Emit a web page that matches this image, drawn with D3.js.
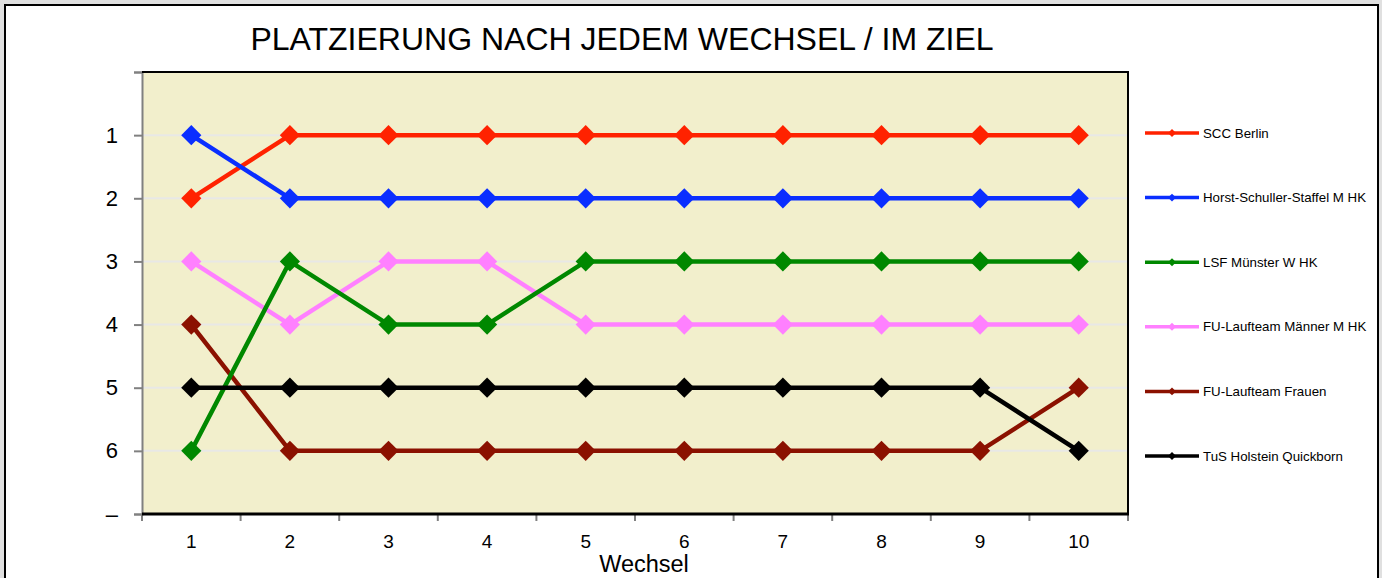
<!DOCTYPE html>
<html>
<head>
<meta charset="utf-8">
<script src="https://cdn.jsdelivr.net/npm/d3@7"></script>
<style>
  body { margin: 0; background: #e0e0e0; }
  svg { display: block; font-family: "Liberation Sans", Arial, sans-serif; }
</style>
</head>
<body>
<div id="chart"></div>
<script>
// data
const wechsel = [1, 2, 3, 4, 5, 6, 7, 8, 9, 10];
const teams = ["SCC Berlin", "Horst-Schuller-Staffel M HK", "LSF Münster W HK",
               "FU-Laufteam Männer M HK", "FU-Laufteam Frauen", "TuS Holstein Quickborn"];
const sccBerlin   = [2, 1, 1, 1, 1, 1, 1, 1, 1, 1];
const horstSch    = [1, 2, 2, 2, 2, 2, 2, 2, 2, 2];
const lsfMuenster = [6, 3, 4, 4, 3, 3, 3, 3, 3, 3];
const fuMaenner   = [3, 4, 3, 3, 4, 4, 4, 4, 4, 4];
const fuFrauen    = [4, 6, 6, 6, 6, 6, 6, 6, 6, 5];
const tusHolstein = [5, 5, 5, 5, 5, 5, 5, 5, 5, 6];
const rankTicks = [0, 1, 2, 3, 4, 5, 6, 7];
const rankLabels = ["", "1", "2", "3", "4", "5", "6", "–"];
const colors = ["#ff2200", "#0a2eff", "#008800", "#ff80ff", "#8b1100", "#000000"];

const series = teams.map((name, i) => ({
    name: name,
    color: colors[i],
    values: [sccBerlin, horstSch, lsfMuenster, fuMaenner, fuFrauen, tusHolstein][i]
}));
// drawing order (black on top, green above pink / dark red)
const drawOrder = [0, 1, 3, 4, 2, 5];

const W = 1382, H = 578;
const svg = d3.select("#chart").append("svg")
    .attr("width", W).attr("height", H);

// white frame
svg.append("rect")
    .attr("x", 5).attr("y", 5).attr("width", 1373).attr("height", 590)
    .attr("fill", "#fff").attr("stroke", "#000").attr("stroke-width", 2);

// title
svg.append("text")
    .attr("x", 622).attr("y", 50)
    .attr("text-anchor", "middle")
    .attr("font-size", 32)
    .text("PLATZIERUNG NACH JEDEM WECHSEL / IM ZIEL");

const plot = {left: 142, top: 72, right: 1128, bottom: 514};

const x = d3.scaleBand().domain(wechsel).range([plot.left, plot.right]);
const y = d3.scaleLinear().domain([0, 7]).range([plot.top, plot.bottom]);

// plot background
svg.append("rect")
    .attr("x", plot.left).attr("y", plot.top)
    .attr("width", plot.right - plot.left).attr("height", plot.bottom - plot.top)
    .attr("fill", "#f2efcc");

// gridlines
svg.append("g").selectAll("line")
    .data(rankTicks.slice(1, 7))
    .join("line")
    .attr("x1", plot.left).attr("x2", plot.right)
    .attr("y1", d => y(d)).attr("y2", d => y(d))
    .attr("stroke", "#e8e8e6").attr("stroke-width", 2);

// y axis
const yAxis = svg.append("g")
    .attr("transform", `translate(${plot.left},0)`)
    .call(d3.axisLeft(y).tickValues(rankTicks).tickFormat((d, i) => rankLabels[i]).tickSize(8).tickPadding(16));
yAxis.select(".domain").attr("stroke", "#808080").attr("stroke-width", 2);
yAxis.selectAll(".tick line").attr("stroke", "#808080").attr("stroke-width", 2);
yAxis.selectAll("text").attr("font-size", 22).attr("fill", "#000")
    .attr("font-family", "Liberation Sans, Arial, sans-serif");

// x axis ticks at band boundaries
const bounds = wechsel.map(d => x(d)).concat([plot.right]);
svg.append("g").selectAll("line")
    .data(bounds)
    .join("line")
    .attr("x1", d => d).attr("x2", d => d)
    .attr("y1", plot.bottom).attr("y2", plot.bottom + 7)
    .attr("stroke", "#808080").attr("stroke-width", 2);

svg.append("g").selectAll("text")
    .data(wechsel)
    .join("text")
    .attr("x", d => x(d) + x.bandwidth() / 2)
    .attr("y", 548)
    .attr("text-anchor", "middle")
    .attr("font-size", 19)
    .text(d => d);

svg.append("text")
    .attr("x", 644).attr("y", 572)
    .attr("text-anchor", "middle")
    .attr("font-size", 23.5)
    .text("Wechsel");

// plot border: top/right black, bottom thicker
svg.append("line").attr("x1", plot.left).attr("x2", plot.right + 1)
    .attr("y1", plot.top).attr("y2", plot.top)
    .attr("stroke", "#000").attr("stroke-width", 2);
svg.append("line").attr("x1", plot.right).attr("x2", plot.right)
    .attr("y1", plot.top).attr("y2", plot.bottom)
    .attr("stroke", "#000").attr("stroke-width", 2);
svg.append("line").attr("x1", plot.left).attr("x2", plot.right + 1)
    .attr("y1", plot.bottom).attr("y2", plot.bottom)
    .attr("stroke", "#000").attr("stroke-width", 3);

// lines and markers
const line = d3.line()
    .x((d, i) => x(wechsel[i]) + x.bandwidth() / 2)
    .y(d => y(d));
const diamond = d3.symbol().type(d3.symbolDiamond2).size(260);

const seriesG = svg.append("g").selectAll("g")
    .data(drawOrder.map(i => series[i]))
    .join("g");

seriesG.append("path")
    .attr("d", d => line(d.values))
    .attr("fill", "none")
    .attr("stroke", d => d.color)
    .attr("stroke-width", 4.5);

seriesG.each(function(s) {
    d3.select(this).selectAll("path.mark")
        .data(s.values)
        .join("path")
        .attr("class", "mark")
        .attr("transform", (d, i) => `translate(${x(wechsel[i]) + x.bandwidth() / 2},${y(d)})`)
        .attr("d", diamond)
        .attr("fill", s.color);
});

// legend
const legendY = d3.scalePoint().domain(teams).range([133, 456]);
const legend = svg.append("g").selectAll("g")
    .data(series)
    .join("g")
    .attr("transform", d => `translate(1145,${legendY(d.name)})`);
legend.append("line")
    .attr("x1", 0).attr("x2", 54)
    .attr("stroke", d => d.color).attr("stroke-width", 3.5);
legend.append("path")
    .attr("transform", "translate(27,0)")
    .attr("d", d3.symbol().type(d3.symbolDiamond2).size(40))
    .attr("fill", d => d.color);
legend.append("text")
    .attr("x", 58).attr("y", 4.5)
    .attr("font-size", 13.3)
    .text(d => d.name);
</script>
</body>
</html>
